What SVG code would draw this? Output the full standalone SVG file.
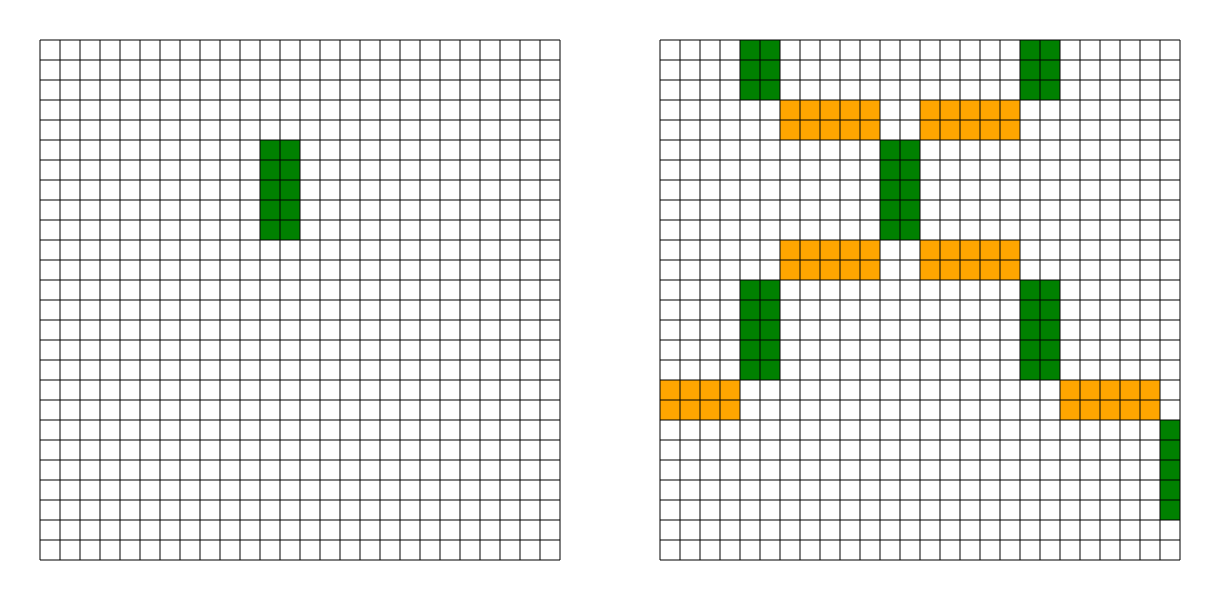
<svg xmlns="http://www.w3.org/2000/svg" width="1220" height="600" viewBox="0 0 1220 600">
<style>
.g{fill:#008000}
.o{fill:#FFA500}
.ln{stroke:#000;stroke-width:1;fill:none}
</style>
<rect width="1220" height="600" fill="#fff"/>
<g id="left-grid">
<rect class="g" x="260" y="140" width="40" height="100"/>
<path class="ln" d="M40 40V560M60 40V560M80 40V560M100 40V560M120 40V560M140 40V560M160 40V560M180 40V560M200 40V560M220 40V560M240 40V560M260 40V560M280 40V560M300 40V560M320 40V560M340 40V560M360 40V560M380 40V560M400 40V560M420 40V560M440 40V560M460 40V560M480 40V560M500 40V560M520 40V560M540 40V560M560 40V560M40 40H560M40 60H560M40 80H560M40 100H560M40 120H560M40 140H560M40 160H560M40 180H560M40 200H560M40 220H560M40 240H560M40 260H560M40 280H560M40 300H560M40 320H560M40 340H560M40 360H560M40 380H560M40 400H560M40 420H560M40 440H560M40 460H560M40 480H560M40 500H560M40 520H560M40 540H560M40 560H560"/>
</g>
<g id="right-grid">
<rect class="g" x="740" y="40" width="40" height="60"/>
<rect class="g" x="1020" y="40" width="40" height="60"/>
<rect class="o" x="780" y="100" width="100" height="40"/>
<rect class="o" x="920" y="100" width="100" height="40"/>
<rect class="g" x="880" y="140" width="40" height="100"/>
<rect class="o" x="780" y="240" width="100" height="40"/>
<rect class="o" x="920" y="240" width="100" height="40"/>
<rect class="g" x="740" y="280" width="40" height="100"/>
<rect class="g" x="1020" y="280" width="40" height="100"/>
<rect class="o" x="660" y="380" width="80" height="40"/>
<rect class="o" x="1060" y="380" width="100" height="40"/>
<rect class="g" x="1160" y="420" width="20" height="100"/>
<path class="ln" d="M660 40V560M680 40V560M700 40V560M720 40V560M740 40V560M760 40V560M780 40V560M800 40V560M820 40V560M840 40V560M860 40V560M880 40V560M900 40V560M920 40V560M940 40V560M960 40V560M980 40V560M1000 40V560M1020 40V560M1040 40V560M1060 40V560M1080 40V560M1100 40V560M1120 40V560M1140 40V560M1160 40V560M1180 40V560M660 40H1180M660 60H1180M660 80H1180M660 100H1180M660 120H1180M660 140H1180M660 160H1180M660 180H1180M660 200H1180M660 220H1180M660 240H1180M660 260H1180M660 280H1180M660 300H1180M660 320H1180M660 340H1180M660 360H1180M660 380H1180M660 400H1180M660 420H1180M660 440H1180M660 460H1180M660 480H1180M660 500H1180M660 520H1180M660 540H1180M660 560H1180"/>
</g>
</svg>
